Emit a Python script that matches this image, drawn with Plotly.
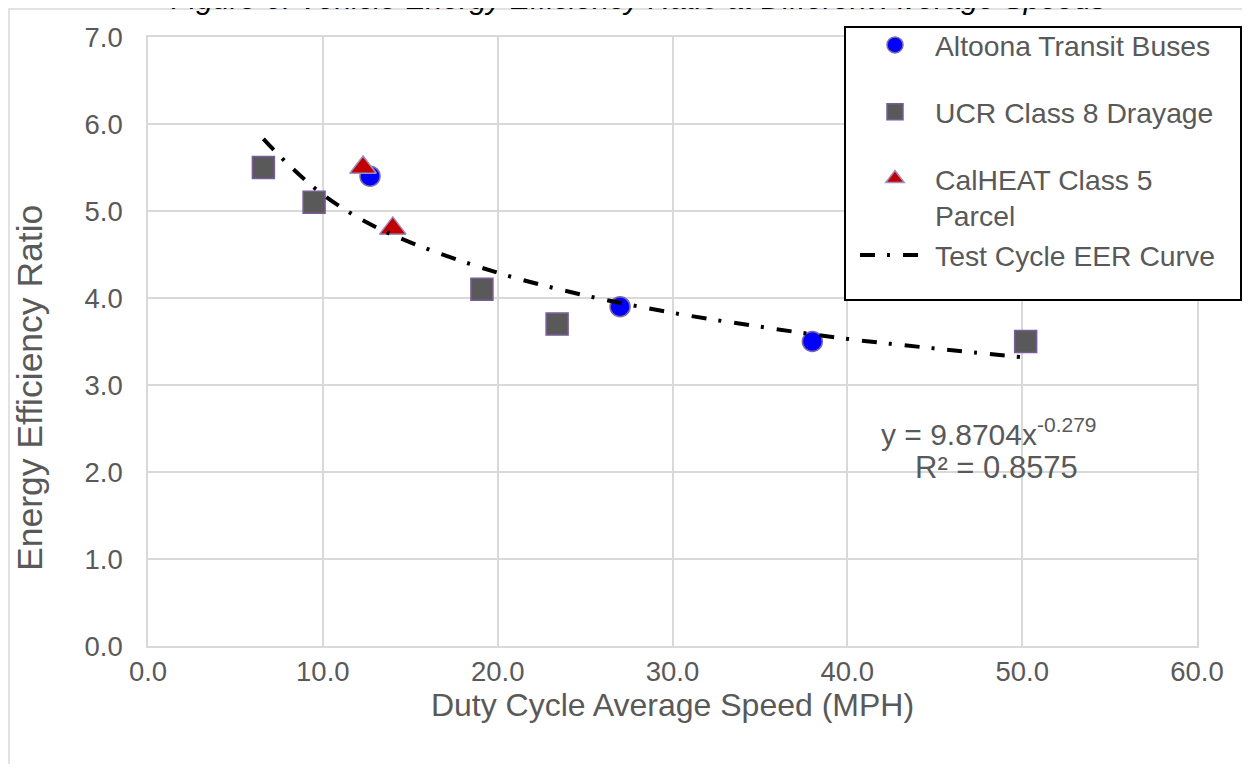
import plotly.graph_objects as go

# ---- data ----
altoona_x = [12.7, 27.0, 38.0]
altoona_y = [5.4, 3.9, 3.5]

ucr_x = [6.6, 9.5, 19.1, 23.4, 50.2]
ucr_y = [5.5, 5.1, 4.1, 3.7, 3.5]

calheat_x = [12.3, 14.0]
calheat_y = [5.5, 4.8]

curve_x = [6.6, 8.0, 10.0, 12.5, 15.0, 20.0, 25.0, 30.0, 35.0, 40.0, 45.0, 50.0]
curve_y = [5.83, 5.54, 5.19, 4.87, 4.64, 4.29, 4.03, 3.83, 3.67, 3.53, 3.42, 3.32]

x_ticks = [0, 10, 20, 30, 40, 50, 60]
y_ticks = [0, 1, 2, 3, 4, 5, 6, 7]

FONT = "Arial, Liberation Sans, sans-serif"
TXT = "#595959"
GRID = "#d9d9d9"

# figure geometry (page has an 8px body margin)
W, H = 1234, 756
L, R, T, B = 140, 1189, 29, 638


def px(xp):
    return (xp - L) / (R - L)


def py(yp):
    return (B - yp) / (B - T)


fig = go.Figure()

fig.add_trace(go.Scatter(
    x=altoona_x, y=altoona_y, mode="markers",
    name="Altoona Transit Buses", legendgroup="a",
    marker=dict(symbol="circle", size=20, color="#0000FF",
                line=dict(color="#7f6aa8", width=1.5)),
))
fig.add_trace(go.Scatter(
    x=ucr_x, y=ucr_y, mode="markers",
    name="UCR Class 8 Drayage", legendgroup="b",
    marker=dict(symbol="square", size=22, color="#595959",
                line=dict(color="#7a5c9a", width=1.5)),
))
fig.add_trace(go.Scatter(
    x=calheat_x, y=calheat_y, mode="markers",
    name="CalHEAT Class 5<br>Parcel", legendgroup="c",
    marker=dict(symbol="triangle-up", size=23, color="#C00000",
                line=dict(color="#9e8fc0", width=1.5)),
))
fig.add_trace(go.Scatter(
    x=curve_x, y=curve_y, mode="lines",
    name="Test Cycle EER Curve", legendgroup="c",
    line=dict(color="black", width=4, dash="15px,12px,3px,13px", shape="spline"),
))

fig.update_layout(
    width=W, height=H,
    margin=dict(l=L, r=W - R, t=T, b=H - B),
    paper_bgcolor="white", plot_bgcolor="white",
    font=dict(family=FONT, color=TXT, size=27),
    showlegend=True,
    legend=dict(
        x=px(847), y=py(12), xanchor="left", yanchor="top",
        bgcolor="rgba(0,0,0,0)", borderwidth=0,
        font=dict(size=28.3, color=TXT, family=FONT),
        valign="top", tracegroupgap=27, itemwidth=70,
        traceorder="grouped",
    ),
    xaxis=dict(
        range=[0, 60], tickvals=x_ticks, tickformat=".1f",
        showgrid=True, gridcolor=GRID, gridwidth=1.5,
        showline=True, linecolor=GRID, linewidth=1.5, mirror=True,
        zeroline=False, ticks="", ticklabelstandoff=0,
        tickfont=dict(size=27.5, color=TXT),
        title=dict(text="Duty Cycle Average Speed (MPH)", font=dict(size=32, color=TXT), standoff=0),
    ),
    yaxis=dict(
        range=[0, 7], tickvals=y_ticks, tickformat=".1f",
        showgrid=True, gridcolor=GRID, gridwidth=1.5,
        showline=True, linecolor=GRID, linewidth=1.5, mirror=True,
        zeroline=False, ticks="", ticklabelstandoff=18,
        tickfont=dict(size=27.5, color=TXT),
    ),
    shapes=[
        # outer chart border
        dict(type="rect", xref="paper", yref="paper",
             x0=px(1), x1=px(1300), y0=py(800), y1=py(1),
             line=dict(color=GRID, width=1.5), fillcolor="rgba(0,0,0,0)", layer="below"),
        # legend frame
        dict(type="rect", xref="paper", yref="paper",
             x0=px(837), x1=px(1233), y0=py(292), y1=py(19),
             line=dict(color="black", width=2), fillcolor="white", layer="above"),
    ],
    annotations=[
        dict(text="<i>Figure 6: Vehicle Energy Efficiency Ratio at Different Average Speeds</i>",
             xref="paper", yref="paper", x=px(630), y=py(9), xanchor="center", yanchor="bottom",
             showarrow=False, font=dict(size=30.3, color="black", family=FONT)),
        dict(text="Energy Efficiency Ratio", textangle=-90,
             xref="paper", yref="paper", x=px(22), y=py(380), xanchor="center", yanchor="middle",
             showarrow=False, font=dict(size=35.5, color=TXT, family=FONT)),
        dict(text="y = 9.8704x<sup>-0.279</sup>",
             xref="paper", yref="paper", x=px(981), y=py(424), xanchor="center", yanchor="middle",
             showarrow=False, font=dict(size=30, color=TXT, family=FONT)),
        dict(text="R² = 0.8575",
             xref="paper", yref="paper", x=px(988), y=py(459), xanchor="center", yanchor="middle",
             showarrow=False, font=dict(size=31, color=TXT, family=FONT)),
    ],
)

fig.write_html("out.html")
